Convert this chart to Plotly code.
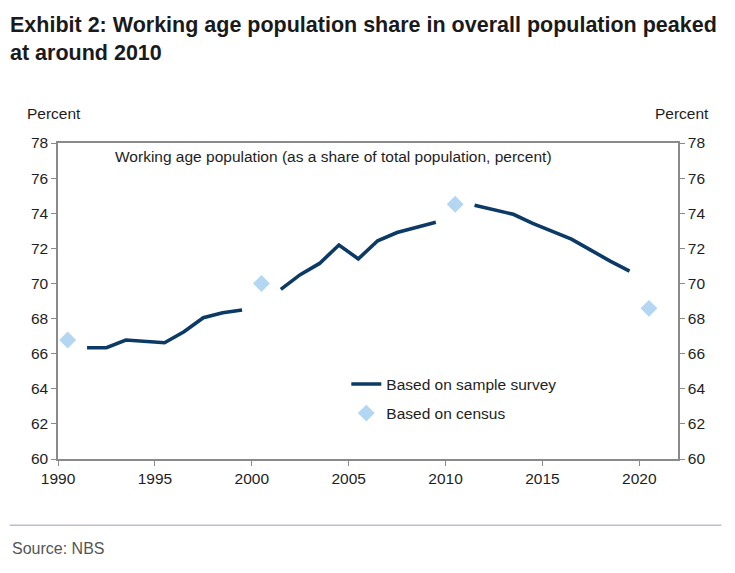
import plotly.graph_objects as go

# Data
survey_years_a = [1991, 1992, 1993, 1994, 1995, 1996, 1997, 1998, 1999]
survey_vals_a = [66.34, 66.34, 66.78, 66.72, 66.62, 67.25, 68.05, 68.33, 68.49]
survey_years_b = [2001, 2002, 2003, 2004, 2005, 2006, 2007, 2008, 2009]
survey_vals_b = [69.66, 70.5, 71.14, 72.19, 71.4, 72.43, 72.9, 73.2, 73.48]
survey_years_c = [2011, 2012, 2013, 2014, 2015, 2016, 2017, 2018, 2019]
survey_vals_c = [74.46, 74.2, 73.94, 73.42, 72.99, 72.52, 71.9, 71.27, 70.7]
census_years = [1990, 2000, 2010, 2020]
census_vals = [66.78, 70.0, 74.51, 68.58]
x_tick_years = [1990, 1995, 2000, 2005, 2010, 2015, 2020]
y_ticks = [60, 62, 64, 66, 68, 70, 72, 74, 76, 78]

NAVY = "#0c3a66"
LIGHT = "#b3d6f2"
TXT = "#1e1e1e"
AX = "#8a8a8a"
FONT = "Liberation Sans, Arial, sans-serif"
FS = 15.5

fig = go.Figure()
segments = [(survey_years_a, survey_vals_a), (survey_years_b, survey_vals_b), (survey_years_c, survey_vals_c)]
for i, (xs, ys) in enumerate(segments):
    fig.add_trace(go.Scatter(
        x=xs, y=ys, mode="lines", line=dict(color=NAVY, width=3.6),
        name="Based on sample survey", showlegend=(i == 0), legendgroup="a",
    ))
fig.add_trace(go.Scatter(
    x=census_years, y=census_vals, mode="markers",
    marker=dict(symbol="diamond", size=13, color=LIGHT),
    name="Based on census", legendgroup="b",
))
# invisible trace for right axis
fig.add_trace(go.Scatter(x=[census_years[0]], y=[census_vals[0]], yaxis="y2",
                         mode="markers", marker=dict(opacity=0), showlegend=False,
                         hoverinfo="skip"))

axis_common = dict(showline=True, linecolor=AX, linewidth=1.5, ticks="outside",
                   ticklen=5, tickcolor=AX, showgrid=False, zeroline=False,
                   tickfont=dict(family=FONT, size=FS, color=TXT))

fig.update_layout(
    width=735, height=573,
    margin=dict(l=50, r=65, t=135, b=122),
    paper_bgcolor="white", plot_bgcolor="white",
    font=dict(family=FONT, color=TXT),
    xaxis=dict(range=[1989.5, 2021.5], tickvals=[y - 0.5 for y in x_tick_years],
               ticktext=[str(y) for y in x_tick_years], mirror=True, **axis_common),
    yaxis=dict(range=[60, 78], tickvals=y_ticks, **axis_common),
    yaxis2=dict(range=[60, 78], tickvals=y_ticks, overlaying="y", side="right",
                **axis_common),
    showlegend=True,
    legend=dict(x=0.465, y=0.29, xanchor="left", yanchor="top",
                bgcolor="rgba(0,0,0,0)", font=dict(family=FONT, size=FS, color=TXT),
                traceorder="grouped", tracegroupgap=6, itemwidth=30),
)

fig.add_annotation(text="<b>Exhibit 2: Working age population share in overall population peaked<br>at around 2010</b>",
                   xref="paper", yref="paper", x=-0.081, y=1.419, xanchor="left", yanchor="top",
                   align="left", showarrow=False,
                   font=dict(family=FONT, size=21.5, color="#1a1a1a"))
fig.add_annotation(text="Percent", xref="paper", yref="paper", x=-0.053, y=1.06,
                   xanchor="left", yanchor="bottom", showarrow=False,
                   font=dict(family=FONT, size=FS, color=TXT))
fig.add_annotation(text="Percent", xref="paper", yref="paper", x=1.053, y=1.06,
                   xanchor="right", yanchor="bottom", showarrow=False,
                   font=dict(family=FONT, size=FS, color=TXT))
fig.add_annotation(text="Working age population (as a share of total population, percent)",
                   xref="paper", yref="paper", x=0.088, y=0.99, xanchor="left", yanchor="top",
                   showarrow=False, font=dict(family=FONT, size=FS, color=TXT))
fig.add_annotation(text="Source: NBS", xref="paper", yref="paper", x=-0.078, y=-0.25,
                   xanchor="left", yanchor="top", showarrow=False,
                   font=dict(family="Liberation Sans Narrow, Arial Narrow, sans-serif", size=16, color="#555555"))
fig.add_shape(type="line", xref="paper", yref="paper", x0=-0.078, x1=1.07, y0=-0.21, y1=-0.21,
              line=dict(color="#c9b8d2", width=1.5))

fig.write_html("out.html")
